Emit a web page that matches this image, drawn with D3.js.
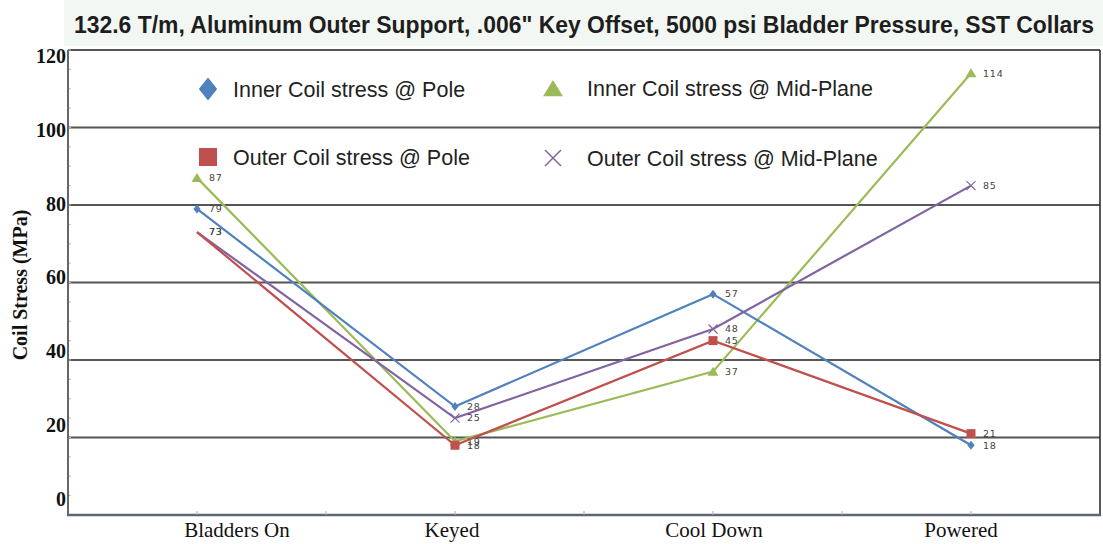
<!DOCTYPE html>
<html>
<head>
<meta charset="utf-8">
<script src="https://cdn.jsdelivr.net/npm/d3@7"></script>
<style>
  body { margin: 0; background: #fff; }
  svg { display: block; }
</style>
</head>
<body>
<svg class="canvas" width="1103" height="544"></svg>
<script>
"use strict";

// chart data
const titleText = "132.6 T/m, Aluminum Outer Support, .006\" Key Offset, 5000 psi Bladder Pressure, SST Collars";
const stages = ["Bladders On", "Keyed", "Cool Down", "Powered"];
const innerPole = [79, 28, 57, 18];
const outerPole = [73, 18, 45, 21];
const innerMid = [87, 19, 37, 114];
const outerMid = [73, 25, 48, 85];
const yTicks = [0, 20, 40, 60, 80, 100, 120];

const series = [
  { name: "Inner Coil stress @ Pole", values: innerPole, color: "#4f81bd", shape: "diamond" },
  { name: "Inner Coil stress @ Mid-Plane", values: innerMid, color: "#9bbb59", shape: "triangle" },
  { name: "Outer Coil stress @ Pole", values: outerPole, color: "#c0504d", shape: "square" },
  { name: "Outer Coil stress @ Mid-Plane", values: outerMid, color: "#8064a2", shape: "x" },
];
// markers hidden behind the overlapping labels at the first stage
const hiddenFirst = ["Outer Coil stress @ Pole", "Outer Coil stress @ Mid-Plane"];

function render() {
  const svg = d3.select(".canvas");
  const left = 68, right = 1100, top = 50, bottom = 515;

  const x = d3.scaleBand().domain(stages).range([left, right]);
  const y = d3.scaleLinear().domain([0, 120]).range([bottom, top]);
  // tick labels of the source sit a bit off the grid lines
  const yLabel = d3.scaleLinear().domain([0, 120]).range([499, 56]);
  // category labels of the source are not exactly centred on their band
  const xLabelShift = [40, -3, 1, -10];

  // title strip
  svg.append("rect").attr("x", 64).attr("y", 0).attr("width", 1039).attr("height", 46)
    .attr("fill", "#f3f7f3");
  svg.append("text")
    .attr("x", 584).attr("y", 33)
    .attr("text-anchor", "middle")
    .attr("textLength", 1020).attr("lengthAdjust", "spacingAndGlyphs")
    .style("font-family", "'Liberation Sans Narrow', 'Liberation Sans', Arial, sans-serif")
    .style("font-weight", "bold").style("font-size", "24px").style("fill", "#1e1e1e")
    .text(titleText);

  // grid lines
  svg.append("g").selectAll("line")
    .data(yTicks.filter(d => d > 0))
    .join("line")
    .attr("x1", left).attr("x2", right)
    .attr("y1", d => y(d)).attr("y2", d => y(d))
    .attr("stroke", "#555").attr("stroke-width", 2);

  // minor ticks on the left axis
  svg.append("g").selectAll("line")
    .data(d3.range(0, 121, 5))
    .join("line")
    .attr("x1", left).attr("x2", left + 3)
    .attr("y1", d => y(d)).attr("y2", d => y(d))
    .attr("stroke", "#bbb").attr("stroke-width", 1);

  // frame
  svg.append("line").attr("x1", left).attr("x2", left).attr("y1", top).attr("y2", bottom + 1)
    .attr("stroke", "#666").attr("stroke-width", 2);
  svg.append("line").attr("x1", right).attr("x2", right).attr("y1", top).attr("y2", bottom + 1)
    .attr("stroke", "#222").attr("stroke-width", 1.5);
  svg.append("line").attr("x1", left - 1).attr("x2", right + 1).attr("y1", bottom).attr("y2", bottom)
    .attr("stroke", "#5f6673").attr("stroke-width", 2.5);

  // x axis ticks: centres and band edges
  const xTickPos = [];
  stages.forEach((s, i) => {
    xTickPos.push(x(s) + x.bandwidth() / 2);
    if (i > 0) xTickPos.push(x(s));
  });
  svg.append("g").selectAll("line")
    .data(xTickPos)
    .join("line")
    .attr("x1", d => d).attr("x2", d => d)
    .attr("y1", bottom - 4).attr("y2", bottom)
    .attr("stroke", "#aab").attr("stroke-width", 1);

  svg.append("g").selectAll("text")
    .data(stages)
    .join("text")
    .attr("x", (d, i) => x(d) + x.bandwidth() / 2 + xLabelShift[i])
    .attr("y", 537)
    .attr("text-anchor", "middle")
    .style("font-family", "'Liberation Serif', 'Times New Roman', serif")
    .style("font-size", "21px").style("fill", "#111")
    .text(d => d);

  // y tick labels
  const yAxis = svg.append("g")
    .attr("transform", `translate(${left - 2},0)`)
    .call(d3.axisLeft(yLabel).tickValues(yTicks).tickSize(0).tickPadding(0));
  yAxis.select(".domain").remove();
  yAxis.selectAll("text")
    .style("font-family", "'Liberation Serif', 'Times New Roman', serif")
    .style("font-weight", "bold").style("font-size", "20px").style("fill", "#111");

  svg.append("text")
    .attr("transform", "translate(27,285) rotate(-90)")
    .attr("text-anchor", "middle")
    .style("font-family", "'Liberation Serif', 'Times New Roman', serif")
    .style("font-weight", "bold").style("font-size", "20px").style("fill", "#111")
    .text("Coil Stress (MPa)");

  // marker shapes
  function markerPath(shape, s) {
    if (shape === "diamond") return `M0,${-s}L${s * 0.8},0L0,${s}L${-s * 0.8},0Z`;
    if (shape === "square") return `M${-s},${-s}H${s}V${s}H${-s}Z`;
    if (shape === "triangle") return `M0,${-s}L${s * 1.1},${s * 0.8}L${-s * 1.1},${s * 0.8}Z`;
    return `M${-s},${-s}L${s},${s}M${-s},${s}L${s},${-s}`;
  }
  const markerSize = { diamond: 4.5, square: 4.5, triangle: 5, x: 4.5 };

  const line = d3.line()
    .x((d, i) => x(stages[i]) + x.bandwidth() / 2)
    .y(d => y(d));

  const sg = svg.append("g").selectAll("g")
    .data([series[1], series[0], series[3], series[2]])
    .join("g");

  sg.append("path")
    .attr("d", d => line(d.values))
    .attr("fill", "none")
    .attr("stroke", d => d.color)
    .attr("stroke-width", 2.2);

  sg.each(function (s) {
    const g = d3.select(this);
    s.values.forEach((v, i) => {
      const cx = x(stages[i]) + x.bandwidth() / 2;
      const cy = y(v);
      if (!(i === 0 && hiddenFirst.includes(s.name))) {
        g.append("path")
          .attr("transform", `translate(${cx},${cy})`)
          .attr("d", markerPath(s.shape, markerSize[s.shape]))
          .attr("fill", s.shape === "x" ? "none" : s.color)
          .attr("stroke", s.shape === "x" ? s.color : "none")
          .attr("stroke-width", 1.2);
      }
      g.append("text")
        .attr("x", cx + 12).attr("y", cy)
        .attr("dy", "0.35em")
        .style("font-family", "'DejaVu Sans', Verdana, sans-serif")
        .style("font-size", "9.5px").style("letter-spacing", "0.8px")
        .style("fill", "#444")
        .text(v);
    });
  });

  // legend
  const legendPos = [[208, 89, 25], [553, 88, 34], [208, 157, 25], [553, 158, 34]];
  const legendSize = { diamond: 11.5, square: 9, triangle: 9, x: 8 };
  const lg = svg.append("g").selectAll("g")
    .data(series)
    .join("g")
    .attr("transform", (d, i) => `translate(${legendPos[i][0]},${legendPos[i][1]})`);
  lg.append("path")
    .attr("d", d => markerPath(d.shape, legendSize[d.shape]))
    .attr("transform", d => d.shape === "triangle" ? "translate(0,1)" : null)
    .attr("fill", d => d.shape === "x" ? "none" : d.color)
    .attr("stroke", d => d.shape === "x" ? d.color : "none")
    .attr("stroke-width", 1.5);
  lg.append("text")
    .attr("x", (d, i) => legendPos[i][2]).attr("y", 0).attr("dy", "0.35em")
    .style("font-family", "'Liberation Sans', Arial, sans-serif")
    .style("font-size", "21.5px").style("fill", "#222")
    .text(d => d.name);
}

window.onload = render;
</script>
</body>
</html>
